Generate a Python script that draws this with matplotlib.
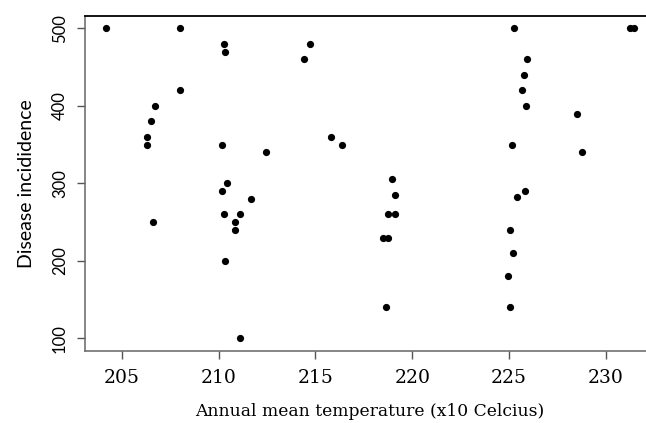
import numpy as np
import matplotlib
matplotlib.use("Agg")
import matplotlib.pyplot as plt

# Annual mean temperature (x10 Celcius) vs disease incidence
temperature = [204.16, 208.01, 210.29, 210.34, 208.01, 206.72, 206.50, 206.28,
               206.28, 210.17, 212.45, 210.44, 210.17, 211.67, 210.29, 211.12,
               210.84, 210.84, 206.59, 210.34, 211.12, 214.70, 214.43, 215.82,
               216.36, 218.98, 219.13, 218.77, 219.13, 218.51, 218.77, 218.63,
               225.25, 231.28, 231.46, 225.96, 225.80, 225.70, 225.90, 228.51,
               225.15, 228.77, 225.85, 225.41, 225.06, 225.20, 224.96, 225.06]
incidence = [500, 500, 480, 470, 420, 400, 380, 360,
             350, 350, 340, 300, 290, 280, 260, 260,
             250, 240, 250, 200, 100, 480, 460, 360,
             350, 305, 285, 260, 260, 230, 230, 140,
             500, 500, 500, 460, 440, 420, 400, 390,
             350, 340, 290, 282, 240, 210, 180, 140]

x_ticks = [205, 210, 215, 220, 225, 230]
y_ticks = [100, 200, 300, 400, 500]

fig = plt.figure(figsize=(6.46, 4.23), dpi=100)
# the right edge of the plot box is cropped off in the original
ax = fig.add_axes([84.7 / 646, 72.3 / 423, 570.3 / 646, 334.7 / 423])

ax.plot(temperature, incidence, "o", color="black", markersize=5.2,
        markeredgewidth=0)
ax.margins(x=0.04, y=0.04)

ax.set_xticks(x_ticks)
ax.set_yticks(y_ticks)
ax.set_xticklabels([str(t) for t in x_ticks], family="DejaVu Serif",
                   fontsize=13.5)
ax.set_yticklabels([str(t) for t in y_ticks], family="Lato", fontsize=12,
                   rotation=90, va="center")
ax.tick_params(axis="both", direction="out", length=6, width=1,
               color="#555555")
ax.tick_params(axis="x", pad=7)
ax.tick_params(axis="y", pad=6)

for side in ["left", "bottom"]:
    ax.spines[side].set_color("#666666")
    ax.spines[side].set_linewidth(1.1)
ax.spines["top"].set_color("black")
ax.spines["top"].set_linewidth(1.3)
ax.spines["right"].set_visible(False)

ax.set_xlabel("Annual mean temperature (x10 Celcius)", family="DejaVu Serif",
              fontsize=12.3)
ax.xaxis.set_label_coords(0.5, (423 - 403 - 72.3) / 334.7)
ax.set_ylabel("Disease incididence", family="Lato", fontsize=14, labelpad=12)

fig.savefig("out.png", dpi=100)
